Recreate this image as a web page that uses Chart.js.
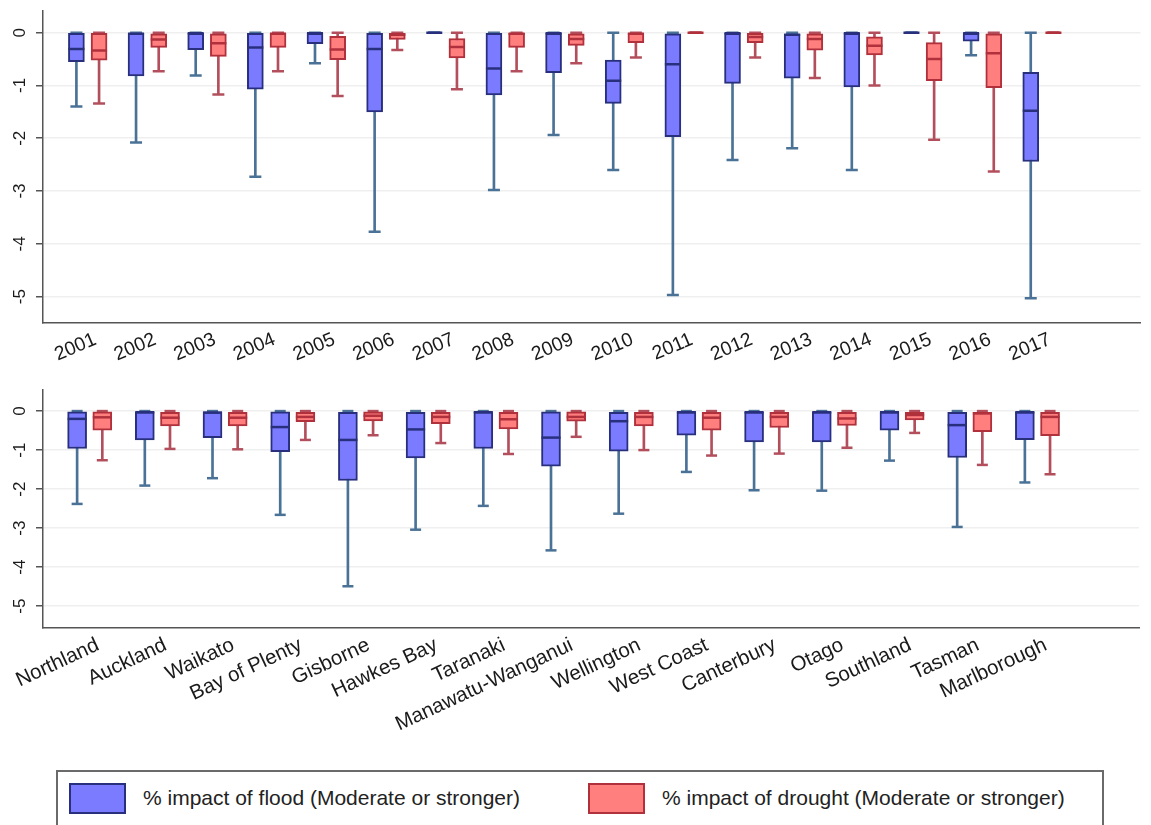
<!DOCTYPE html>
<html>
<head>
<meta charset="utf-8">
<script src="https://cdn.jsdelivr.net/npm/chart.js@4.4.1/dist/chart.umd.min.js"></script>
<style>
  body { margin: 0; background: #fff; font-family: "Liberation Sans", Arial, sans-serif; }
  #wrap { position: relative; width: 1151px; height: 825px; overflow: hidden; }
  #c1 { position: absolute; left: 0; top: 0; }
  #c2 { position: absolute; left: 0; top: 370px; }
  #legend { position: absolute; left: 56px; top: 770px; width: 1048px; height: 60px; border: 2px solid #6a6a6a; box-sizing: border-box; }
  .sw { position: absolute; top: 11px; width: 57px; height: 31px; box-sizing: border-box; border: 2px solid; }
  .lt { position: absolute; top: 14px; font-size: 21px; color: #222; white-space: nowrap; }
</style>
</head>
<body>
<div id="wrap">
  <canvas id="c1" width="1151" height="370"></canvas>
  <canvas id="c2" width="1151" height="390"></canvas>
  <div id="legend">
    <div class="sw" style="left:11px; background:#7b7bff; border-color:#28307e;"></div>
    <div class="lt" style="left:85px;">% impact of flood (Moderate or stronger)</div>
    <div class="sw" style="left:530px; background:#ff7f7f; border-color:#b0303c;"></div>
    <div class="lt" style="left:604px;">% impact of drought (Moderate or stronger)</div>
  </div>
</div>
<script>
// top panel: by year
const years = ['2001', '2002', '2003', '2004', '2005', '2006', '2007', '2008', '2009', '2010', '2011', '2012', '2013', '2014', '2015', '2016', '2017'];
const yearFloodMin = [-1.4, -2.08, -0.81, -2.73, -0.58, -3.77, 0, -2.98, -1.94, -2.6, -4.97, -2.41, -2.19, -2.6, 0, -0.43, -5.03];
const yearFloodQ1 = [-0.55, -0.82, -0.32, -1.07, -0.21, -1.5, 0, -1.18, -0.76, -1.34, -1.97, -0.96, -0.86, -1.03, 0, -0.16, -2.44];
const yearFloodMed = [-0.31, -0.02, -0.01, -0.28, -0.01, -0.31, 0, -0.68, -0.01, -0.91, -0.6, -0.01, -0.04, -0.01, 0, -0.01, -1.48];
const yearFloodQ3 = [0, 0, 0, 0, 0, 0, 0, 0, 0, -0.52, -0.02, 0, -0.03, 0, 0, 0, -0.75];
const yearFloodMax = [0, 0, 0, 0, 0, 0, 0, 0, 0, 0, 0, 0, 0, 0, 0, 0, 0];
const yearDroughtMin = [-1.34, -0.73, -1.17, -0.73, -1.2, -0.33, -1.07, -0.73, -0.58, -0.47, 0, -0.47, -0.86, -1.0, -2.03, -2.63, 0];
const yearDroughtQ1 = [-0.52, -0.28, -0.45, -0.28, -0.51, -0.13, -0.48, -0.28, -0.24, -0.19, 0, -0.19, -0.33, -0.42, -0.91, -1.04, 0];
const yearDroughtMed = [-0.34, -0.13, -0.2, -0.02, -0.32, -0.04, -0.27, -0.02, -0.12, -0.02, 0, -0.08, -0.12, -0.25, -0.5, -0.39, 0];
const yearDroughtQ3 = [0, -0.02, -0.02, 0, -0.07, 0, -0.11, 0, -0.02, 0, 0, 0, -0.02, -0.08, -0.19, -0.02, 0];
const yearDroughtMax = [0, 0, 0, 0, 0, 0, 0, 0, 0, 0, 0, 0, 0, 0, 0, 0, 0];

// bottom panel: by region
const regions = ['Northland', 'Auckland', 'Waikato', 'Bay of Plenty', 'Gisborne', 'Hawkes Bay', 'Taranaki', 'Manawatu-Wanganui', 'Wellington', 'West Coast', 'Canterbury', 'Otago', 'Southland', 'Tasman', 'Marlborough'];
const regFloodMin = [-2.38, -1.91, -1.72, -2.66, -4.49, -3.04, -2.43, -3.57, -2.63, -1.56, -2.03, -2.04, -1.27, -2.97, -1.83];
const regFloodQ1 = [-0.96, -0.74, -0.68, -1.04, -1.78, -1.2, -0.96, -1.41, -1.03, -0.62, -0.79, -0.79, -0.49, -1.19, -0.73];
const regFloodMed = [-0.2, -0.03, -0.04, -0.41, -0.74, -0.47, -0.03, -0.68, -0.26, -0.03, -0.03, -0.03, -0.03, -0.36, -0.03];
const regFloodQ3 = [-0.02, 0, 0, -0.02, -0.03, -0.03, 0, -0.02, -0.03, 0, 0, 0, 0, -0.03, 0];
const regFloodMax = [0, 0, 0, 0, 0, 0, 0, 0, 0, 0, 0, 0, 0, 0, 0];
const regDroughtMin = [-1.26, -0.97, -0.98, -0.74, -0.62, -0.82, -1.1, -0.66, -1.0, -1.14, -1.09, -0.94, -0.56, -1.38, -1.62];
const regDroughtQ1 = [-0.49, -0.38, -0.38, -0.27, -0.25, -0.32, -0.46, -0.26, -0.38, -0.49, -0.42, -0.37, -0.23, -0.53, -0.63];
const regDroughtMed = [-0.16, -0.17, -0.17, -0.15, -0.12, -0.15, -0.21, -0.15, -0.15, -0.17, -0.15, -0.19, -0.1, -0.06, -0.15];
const regDroughtQ3 = [-0.02, -0.03, -0.03, -0.03, -0.02, -0.03, -0.03, -0.02, -0.03, -0.03, -0.03, -0.03, -0.03, -0.03, -0.03];
const regDroughtMax = [0, 0, 0, 0, 0, 0, 0, 0, 0, 0, 0, 0, 0, 0, 0];

const yTicks = [0, -1, -2, -3, -4, -5];

const FLOOD = { fill: '#7b7bff', edge: '#28307e', whisker: '#4a7196' };
const DROUGHT = { fill: '#ff7f7f', edge: '#b0303c', whisker: '#b34f5c' };

function boxSets(min, q1, med, q3, max, shift, col, boxW, capR) {
  const xs = min.map((_, i) => i + shift);
  const pts = arr => xs.map((x, i) => ({ x: x, y: arr[i] }));
  return [
    { type: 'bar', data: xs.map((x, i) => ({ x: x, y: [min[i], max[i]] })), grouped: false,
      barThickness: 2, backgroundColor: col.whisker, borderWidth: 0, order: 4 },
    { type: 'line', data: pts(min), showLine: false, pointStyle: 'line', pointRadius: capR,
      pointBorderColor: col.whisker, pointBorderWidth: 2.5, order: 3 },
    { type: 'line', data: pts(max), showLine: false, pointStyle: 'line', pointRadius: capR,
      pointBorderColor: col.whisker, pointBorderWidth: 2.5, order: 3 },
    { type: 'bar', data: xs.map((x, i) => ({ x: x, y: [q1[i], q3[i]] })), grouped: false,
      barThickness: boxW, backgroundColor: col.fill, borderColor: col.edge, borderWidth: 2,
      borderSkipped: false, order: 2 },
    { type: 'line', data: pts(med), showLine: false, pointStyle: 'line', pointRadius: boxW / 2,
      pointBorderColor: col.edge, pointBorderWidth: 2.5, order: 1 }
  ];
}

function panel(canvas, labels, sets, xMin, xMax, yMin, yMax, rot, fontSize, labelShift, xAxisH, topPad) {
  return new Chart(canvas, {
    type: 'bar',
    data: { datasets: sets },
    options: {
      responsive: false,
      animation: false,
      events: [],
      layout: { padding: { top: topPad, left: 0, right: 0, bottom: 0 } },
      plugins: { legend: { display: false }, tooltip: { enabled: false } },
      scales: {
        x: {
          type: 'linear', min: xMin, max: xMax, offset: false,
          afterBuildTicks: s => { s.ticks = labels.map((_, i) => ({ value: i + labelShift })); },
          afterFit: s => { s.height = xAxisH; s.paddingLeft = 0; s.paddingRight = 0; },
          grid: { display: false },
          border: { display: true, color: '#555', width: 1.5 },
          ticks: {
            autoSkip: false, minRotation: rot, maxRotation: rot, padding: -3,
            color: '#1a1a1a', font: { family: 'Liberation Sans', size: fontSize },
            callback: (v, i) => labels[i]
          }
        },
        y: {
          min: yMin, max: yMax,
          afterBuildTicks: s => { s.ticks = yTicks.map(v => ({ value: v })); },
          afterFit: s => { s.width = 43; s.paddingTop = 0; s.paddingBottom = 0; },
          grid: { color: '#efefef', lineWidth: 1.5, tickColor: '#555', tickLength: 7 },
          border: { display: true, color: '#555', width: 1.5 },
          ticks: {
            minRotation: 90, maxRotation: 90, crossAlign: 'center', padding: 8,
            color: '#1a1a1a', font: { family: 'Liberation Sans', size: 17 },
            callback: v => String(v)
          }
        }
      }
    }
  });
}

panel(document.getElementById('c1'), years,
  boxSets(yearFloodMin, yearFloodQ1, yearFloodMed, yearFloodQ3, yearFloodMax, -0.19, FLOOD, 16, 6)
    .concat(boxSets(yearDroughtMin, yearDroughtQ1, yearDroughtMed, yearDroughtQ3, yearDroughtMax, 0.19, DROUGHT, 16, 6)),
  -0.75, 17.65, -5.5, 0.42, 23, 19.5, 0.13, 47, 10);

panel(document.getElementById('c2'), regions,
  boxSets(regFloodMin, regFloodQ1, regFloodMed, regFloodQ3, regFloodMax, -0.186, FLOOD, 19, 5.5)
    .concat(boxSets(regDroughtMin, regDroughtQ1, regDroughtMed, regDroughtQ3, regDroughtMax, 0.186, DROUGHT, 19, 5.5)),
  -0.69, 15.5, -5.56, 0.54, 25, 20.5, 0.12, 132, 20);
</script>
</body>
</html>
